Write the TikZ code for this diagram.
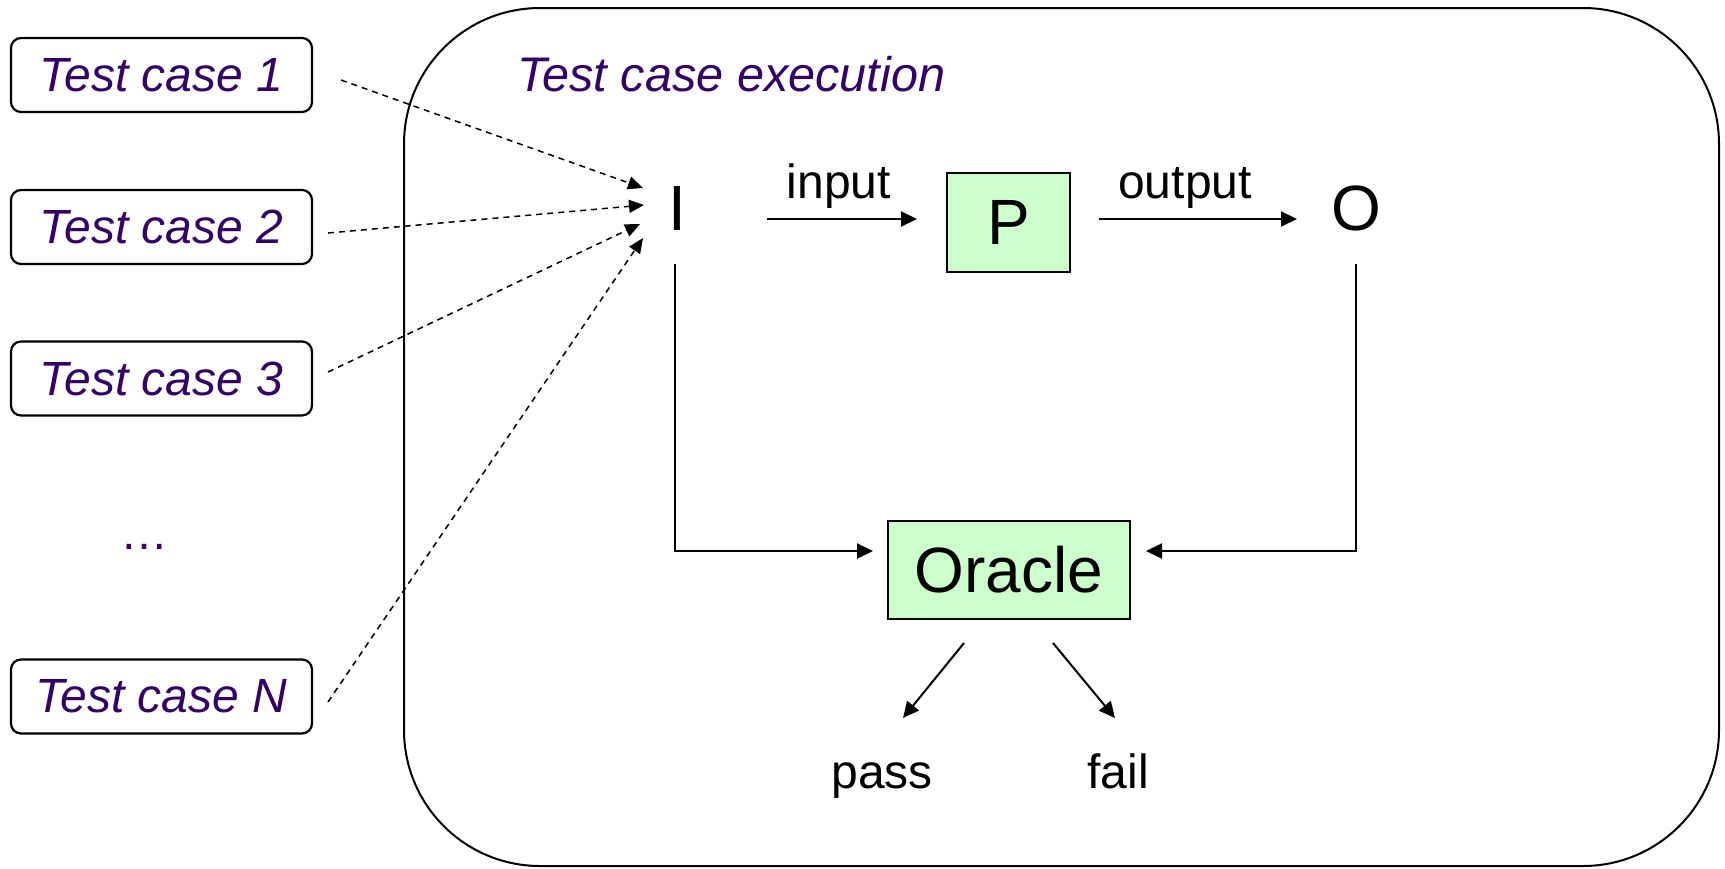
\documentclass[tikz,border=0pt]{standalone}
\usepackage{fontspec}
\setmainfont{Liberation Sans}
\usetikzlibrary{arrows.meta}
\definecolor{tcpurple}{RGB}{51,0,102}
\definecolor{boxgreen}{RGB}{204,255,204}

\begin{document}
\begin{tikzpicture}[x=0.5pt,y=-0.5pt,
  tcbox/.style={draw, line width=1.1pt, rounded corners=5pt, fill=white,
    minimum width=150.5pt, minimum height=37pt, inner sep=0pt,
    font=\fontsize{24}{28}\selectfont\itshape, text=tcpurple},
  greenbox/.style={draw, line width=1pt, fill=boxgreen, inner sep=0pt},
  big/.style={font=\fontsize{32}{38}\selectfont, inner sep=0pt},
  lbl/.style={font=\fontsize{24}{28}\selectfont, inner sep=0pt, anchor=base},
  arr/.style={line width=1pt, -{Triangle[length=8pt,width=7.5pt]}},
  darr/.style={line width=0.75pt, dash pattern=on 3pt off 2.5pt,
    -{Triangle[length=7.5pt,width=6.5pt]}},
]
\useasboundingbox (0,0) rectangle (1725,868);

% execution frame
\draw[line width=1pt, rounded corners=68pt] (404,8) rectangle (1719,866);
\node[anchor=base west, inner sep=0pt, font=\fontsize{24.3}{28}\selectfont\itshape,
  text=tcpurple] (title) at (517,91) {Test case execution};

% test cases
\node[tcbox] (tc1) at (161.5,75) {Test case 1};
\node[tcbox] (tc2) at (161.5,227) {Test case 2};
\node[tcbox] (tc3) at (161.5,378.5) {Test case 3};
\node[tcbox] (tcN) at (161.5,696.5) {Test case N};
\node[lbl, text=tcpurple] (dots) at (144,549) {…};

% program and oracle
\node[big] (I) at (677,208) {I};
\node[big] (O) at (1356,208) {O};
\node[greenbox, big, minimum width=61.5pt, minimum height=49.5pt] (P) at (1008.5,222.5) {P};
\node[greenbox, big, minimum width=121pt, minimum height=49pt] (oracle) at (1009,570) {Oracle};

\node[lbl] (inlbl) at (839,198) {input};
\node[lbl] (outlbl) at (1185,198) {output};
\node[lbl] (pass) at (882,788) {pass};
\node[lbl] (fail) at (1118,788) {fail};

% connector end points
\coordinate (s1) at (341,80);
\coordinate (s2) at (328,233);
\coordinate (s3) at (328,372);
\coordinate (sN) at (328,702);
\coordinate (e1) at (643,188);
\coordinate (e2) at (644,205);
\coordinate (e3) at (640,224);
\coordinate (eN) at (643,238);
\coordinate (inA) at (767,219);
\coordinate (inB) at (917,219);
\coordinate (outA) at (1099,219);
\coordinate (outB) at (1297,219);
\coordinate (iDown) at (675,264);
\coordinate (iTip) at (873,551);
\coordinate (oDown) at (1356,264);
\coordinate (oTip) at (1146,551);
\coordinate (pA) at (964,643);
\coordinate (pB) at (903,718);
\coordinate (fA) at (1053,643);
\coordinate (fB) at (1115,718);

% test case inputs
\draw[darr] (s1) -- (e1);
\draw[darr] (s2) -- (e2);
\draw[darr] (s3) -- (e3);
\draw[darr] (sN) -- (eN);

% data flow
\draw[arr] (inA) -- (inB);
\draw[arr] (outA) -- (outB);
\draw[arr] (iDown) |- (iTip);
\draw[arr] (oDown) |- (oTip);
\draw[arr] (pA) -- (pB);
\draw[arr] (fA) -- (fB);
\end{tikzpicture}
\end{document}
